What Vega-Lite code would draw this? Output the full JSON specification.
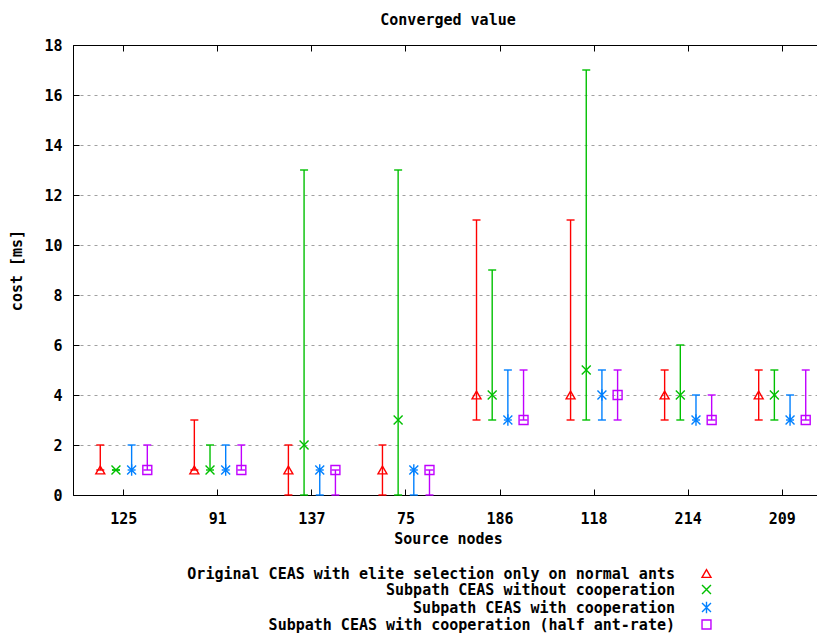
{
  "$schema": "https://vega.github.io/schema/vega-lite/v6.json",
  "autosize": {"type": "none"},
  "padding": {"left": 73, "top": 45, "right": 0, "bottom": 142},
  "width": 760,
  "height": 450,
  "background": "white",
  "title": {"text": "Converged value", "font": "DejaVu Sans Mono", "fontSize": 15, "fontWeight": "bold", "color": "black", "baseline": "middle", "offset": 3, "anchor": "middle", "dx": -5},
  "data": {"values": [
    {"node": "125", "series": "Original CEAS with elite selection only on normal ants", "v": 1, "low": 1, "high": 2},
    {"node": "125", "series": "Subpath CEAS without cooperation", "v": 1, "low": 1, "high": 1},
    {"node": "125", "series": "Subpath CEAS with cooperation", "v": 1, "low": 1, "high": 2},
    {"node": "125", "series": "Subpath CEAS with cooperation (half ant-rate)", "v": 1, "low": 1, "high": 2},
    {"node": "91", "series": "Original CEAS with elite selection only on normal ants", "v": 1, "low": 1, "high": 3},
    {"node": "91", "series": "Subpath CEAS without cooperation", "v": 1, "low": 1, "high": 2},
    {"node": "91", "series": "Subpath CEAS with cooperation", "v": 1, "low": 1, "high": 2},
    {"node": "91", "series": "Subpath CEAS with cooperation (half ant-rate)", "v": 1, "low": 1, "high": 2},
    {"node": "137", "series": "Original CEAS with elite selection only on normal ants", "v": 1, "low": 0, "high": 2},
    {"node": "137", "series": "Subpath CEAS without cooperation", "v": 2, "low": 0, "high": 13},
    {"node": "137", "series": "Subpath CEAS with cooperation", "v": 1, "low": 0, "high": 1},
    {"node": "137", "series": "Subpath CEAS with cooperation (half ant-rate)", "v": 1, "low": 0, "high": 1},
    {"node": "75", "series": "Original CEAS with elite selection only on normal ants", "v": 1, "low": 0, "high": 2},
    {"node": "75", "series": "Subpath CEAS without cooperation", "v": 3, "low": 0, "high": 13},
    {"node": "75", "series": "Subpath CEAS with cooperation", "v": 1, "low": 0, "high": 1},
    {"node": "75", "series": "Subpath CEAS with cooperation (half ant-rate)", "v": 1, "low": 0, "high": 1},
    {"node": "186", "series": "Original CEAS with elite selection only on normal ants", "v": 4, "low": 3, "high": 11},
    {"node": "186", "series": "Subpath CEAS without cooperation", "v": 4, "low": 3, "high": 9},
    {"node": "186", "series": "Subpath CEAS with cooperation", "v": 3, "low": 3, "high": 5},
    {"node": "186", "series": "Subpath CEAS with cooperation (half ant-rate)", "v": 3, "low": 3, "high": 5},
    {"node": "118", "series": "Original CEAS with elite selection only on normal ants", "v": 4, "low": 3, "high": 11},
    {"node": "118", "series": "Subpath CEAS without cooperation", "v": 5, "low": 3, "high": 17},
    {"node": "118", "series": "Subpath CEAS with cooperation", "v": 4, "low": 3, "high": 5},
    {"node": "118", "series": "Subpath CEAS with cooperation (half ant-rate)", "v": 4, "low": 3, "high": 5},
    {"node": "214", "series": "Original CEAS with elite selection only on normal ants", "v": 4, "low": 3, "high": 5},
    {"node": "214", "series": "Subpath CEAS without cooperation", "v": 4, "low": 3, "high": 6},
    {"node": "214", "series": "Subpath CEAS with cooperation", "v": 3, "low": 3, "high": 4},
    {"node": "214", "series": "Subpath CEAS with cooperation (half ant-rate)", "v": 3, "low": 3, "high": 4},
    {"node": "209", "series": "Original CEAS with elite selection only on normal ants", "v": 4, "low": 3, "high": 5},
    {"node": "209", "series": "Subpath CEAS without cooperation", "v": 4, "low": 3, "high": 5},
    {"node": "209", "series": "Subpath CEAS with cooperation", "v": 3, "low": 3, "high": 4},
    {"node": "209", "series": "Subpath CEAS with cooperation (half ant-rate)", "v": 3, "low": 3, "high": 5}
  ]},
  "encoding": {
    "x": {"field": "node", "type": "nominal", "sort": null, "scale": {"paddingInner": 0, "paddingOuter": 0.04}},
    "xOffset": {"field": "series", "type": "nominal", "sort": null, "scale": {"paddingInner": 0, "paddingOuter": 1}},
    "color": {
      "field": "series", "type": "nominal", "sort": null,
      "scale": {
        "domain": ["Original CEAS with elite selection only on normal ants", "Subpath CEAS without cooperation", "Subpath CEAS with cooperation", "Subpath CEAS with cooperation (half ant-rate)"],
        "range": ["#ff0000", "#00c000", "#0080ff", "#c000ff"]
      },
      "legend": {
        "orient": "none", "legendX": 626, "legendY": 521, "title": null,
        "labelFont": "DejaVu Sans Mono", "labelFontSize": 15, "labelFontWeight": "bold", "labelColor": "black",
        "labelAlign": "right", "labelOffset": -39, "labelLimit": 1000,
        "symbolSize": 80, "symbolStrokeWidth": 1.4, "rowPadding": 0
      }
    }
  },
  "layer": [
    {
      "mark": {"type": "rule", "strokeWidth": 1.4},
      "encoding": {
        "x": {"field": "node", "type": "nominal", "sort": null, "title": "Source nodes",
          "axis": {"orient": "bottom", "tickSize": -6, "labelPadding": 29, "labelBaseline": "middle", "labelAngle": 0, "titleY": 43, "titleX": 375, "titleBaseline": "middle", "titleFont": "DejaVu Sans Mono", "titleFontSize": 15, "titleFontWeight": "bold", "titleColor": "black", "labelFont": "DejaVu Sans Mono", "labelFontSize": 15, "labelFontWeight": "bold", "labelColor": "black", "tickColor": "black", "domainColor": "black", "grid": false}},
        "y": {"field": "low", "type": "quantitative", "scale": {"domain": [0, 18], "nice": false, "zero": false}, "title": "cost [ms]",
          "axis": {"orient": "left", "values": [0, 2, 4, 6, 8, 10, 12, 14, 16, 18], "tickSize": -6, "labelPadding": 17, "grid": true, "gridColor": "#a0a0a0", "gridDash": [3, 4], "gridWidth": 1, "titleAngle": -90, "titleX": -57, "titleY": 225, "titleBaseline": "middle", "titleAlign": "center", "titleFont": "DejaVu Sans Mono", "titleFontSize": 15, "titleFontWeight": "bold", "titleColor": "black", "labelFont": "DejaVu Sans Mono", "labelFontSize": 15, "labelFontWeight": "bold", "labelColor": "black", "tickColor": "black", "domainColor": "black"}},
        "y2": {"field": "high"}
      }
    },
    {
      "mark": {"type": "point", "shape": "M-1,0L1,0", "filled": false, "size": 64, "strokeWidth": 1.4, "opacity": 1},
      "encoding": {
        "x": {"field": "node", "type": "nominal", "sort": null, "axis": {"orient": "top", "labels": false, "title": null, "tickSize": -6, "tickColor": "black", "domainColor": "black", "grid": false}},
        "y": {"field": "high", "type": "quantitative", "axis": {"orient": "right", "labels": false, "title": null, "tickSize": -6, "tickColor": "black", "domainColor": "black", "grid": false, "values": [0, 2, 4, 6, 8, 10, 12, 14, 16, 18]}},
        "color": {"field": "series", "type": "nominal", "sort": null, "legend": null}
      }
    },
    {
      "mark": {"type": "point", "shape": "M-1,0L1,0", "filled": false, "size": 64, "strokeWidth": 1.4, "opacity": 1},
      "encoding": {
        "x": {"field": "node", "type": "nominal", "sort": null, "axis": null},
        "y": {"field": "low", "type": "quantitative", "axis": null},
        "color": {"field": "series", "type": "nominal", "sort": null, "legend": null}
      }
    },
    {
      "mark": {"type": "point", "filled": false, "size": 80, "strokeWidth": 1.4, "opacity": 1},
      "encoding": {
        "x": {"field": "node", "type": "nominal", "sort": null, "axis": null},
        "y": {"field": "v", "type": "quantitative", "axis": null},
        "shape": {"field": "series", "type": "nominal", "sort": null,
          "scale": {
            "domain": ["Original CEAS with elite selection only on normal ants", "Subpath CEAS without cooperation", "Subpath CEAS with cooperation", "Subpath CEAS with cooperation (half ant-rate)"],
            "range": ["triangle-up", "M-1,-1L1,1M-1,1L1,-1", "M-1,-1L1,1M-1,1L1,-1M0,-1.3L0,1.3", "square"]
          },
          "legend": {
            "orient": "none", "legendX": 626, "legendY": 521, "title": null,
            "labelFont": "DejaVu Sans Mono", "labelFontSize": 15, "labelFontWeight": "bold", "labelColor": "black",
            "labelAlign": "right", "labelOffset": -39, "labelLimit": 1000,
            "symbolSize": 80, "symbolStrokeWidth": 1.4, "rowPadding": 0
          }
        }
      }
    }
  ],
  "resolve": {"axis": {"x": "independent", "y": "independent"}},
  "config": {"view": {"stroke": "black", "strokeWidth": 1}}
}
